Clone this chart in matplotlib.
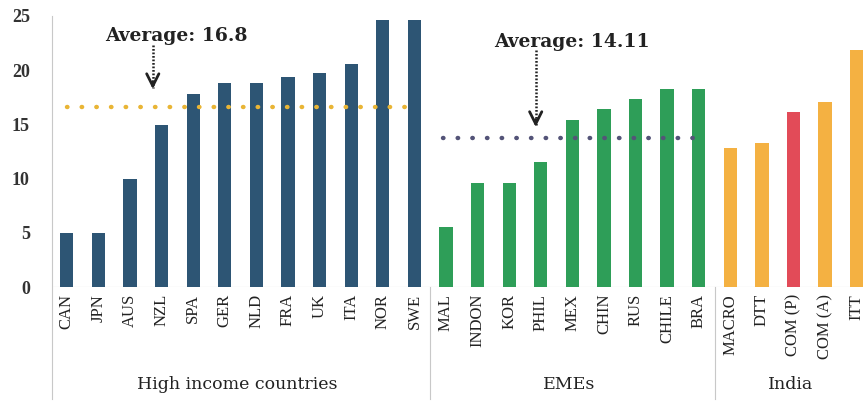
import matplotlib.pyplot as plt
import numpy as np

# data
hic_names = ['CAN', 'JPN', 'AUS', 'NZL', 'SPA', 'GER', 'NLD', 'FRA', 'UK', 'ITA', 'NOR', 'SWE']
hic_vals = [5.0, 5.0, 10.0, 14.9, 17.8, 18.8, 18.8, 19.4, 19.7, 20.6, 24.6, 24.6]
eme_names = ['MAL', 'INDON', 'KOR', 'PHIL', 'MEX', 'CHIN', 'RUS', 'CHILE', 'BRA']
eme_vals = [5.5, 9.6, 9.6, 11.5, 15.4, 16.4, 17.3, 18.3, 18.3]
ind_names = ['MACRO', 'DTT', 'COM (P)', 'COM (A)', 'ITT']
ind_vals = [12.8, 13.3, 16.1, 17.1, 21.9]
groups = ['High income countries', 'EMEs', 'India']
avg_labels = ['Average: 16.8', 'Average: 14.11']
avg_levels = [16.6, 13.7]

blue = '#2D5574'
green = '#2E9E58'
orange = '#F4B142'
red = '#E24B58'

names = hic_names + eme_names + ind_names
vals = hic_vals + eme_vals + ind_vals
colors = [blue] * len(hic_names) + [green] * len(eme_names) + [orange, orange, red, orange, orange]
x = np.arange(len(names))

serif = 'Liberation Serif'
wide = 'DejaVu Serif'
fig = plt.figure(figsize=(8.63, 4.05), dpi=100)
ax = fig.add_axes([52 / 863, 1 - 287 / 405, 1 - 52 / 863, (287 - 16) / 405])
ax.bar(x, vals, width=0.42, color=colors, zorder=2)
ax.set_xlim(-0.47, len(names) - 1 + 0.2)
ax.set_ylim(0, 25)

for s in ['top', 'right', 'bottom', 'left']:
    ax.spines[s].set_visible(False)
ax.axhline(0, color='#bbbbbb', lw=0.8, zorder=1)

ax.set_yticks([0, 5, 10, 15, 20, 25])
ax.set_yticklabels(['0', '5', '10', '15', '20', '25'], fontfamily=serif, fontsize=13,
                   fontweight='bold', color='#333333')
ax.tick_params(axis='y', length=0, pad=16)
ax.set_xticks(x)
ax.set_xticklabels(names, rotation=90, fontfamily=serif, fontsize=12, color='#222222')
ax.tick_params(axis='x', length=0, pad=5)

# left line and group separators
ax.plot([-0.47, -0.47], [25, -10.3], color='#c8c8c8', lw=0.8, clip_on=False)
n1 = len(hic_names)
n2 = n1 + len(eme_names)
for sep in [n1 - 0.5, n2 - 0.5]:
    ax.plot([sep, sep], [0, -10.3], color='#c8c8c8', lw=0.8, clip_on=False)

centers = [5.4, 15.9, 22.9]
for c, g in zip(centers, groups):
    ax.text(c, -9.0, g, ha='center', va='center', fontfamily=wide, fontsize=12.5, color='#222222')

# average lines
ax.plot([0, 10.8], [avg_levels[0]] * 2, color='#E9B535', lw=3.2, linestyle=(0, (0.1, 3.2)),
        dash_capstyle='round', zorder=3)
ax.plot([11.9, 20.2], [avg_levels[1]] * 2, color='#545478', lw=3.2, linestyle=(0, (0.1, 3.2)),
        dash_capstyle='round', zorder=3)

# labels and dotted arrows
for lab, tx, ty, axx, y0, y1 in [(avg_labels[0], 3.48, 23.2, 2.72, 22.3, 18.0),
                                  (avg_labels[1], 16.0, 22.6, 14.84, 21.9, 14.5)]:
    ax.text(tx, ty, lab, ha='center', va='center', fontfamily=wide, fontsize=13.5,
            fontweight='bold', color='#222222')
    ax.plot([axx, axx], [y0, y1 + 0.4], color='#222222', lw=1.8, linestyle=(0, (0.7, 0.7)), zorder=4)
    ax.annotate('', xy=(axx, y1), xytext=(axx, y1 + 1.2),
                arrowprops=dict(arrowstyle='->', lw=2.0, color='#222222', mutation_scale=22),
                zorder=4)

fig.savefig('out.png', dpi=100, facecolor='white')
